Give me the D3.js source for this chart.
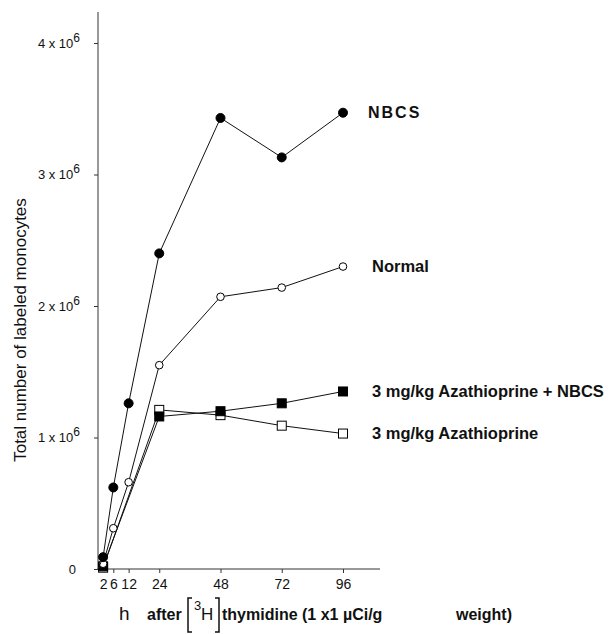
<!DOCTYPE html>
<html>
<head>
<meta charset="utf-8">
<script src="https://cdn.jsdelivr.net/npm/d3@7"></script>
<style>
  body { margin: 0; background: #fff; }
  svg { display: block; font-family: "Liberation Sans", Arial, sans-serif; }
</style>
</head>
<body>
<svg id="chart"></svg>
<script>
// hours after injection
const hoursCircles = [2, 6, 12, 24, 48, 72, 96];
const hoursSquares = [2, 24, 48, 72, 96];

// values in units of 10^6 labeled monocytes
const nbcs = [0.09, 0.62, 1.26, 2.40, 3.43, 3.13, 3.47];
const normal = [0.04, 0.31, 0.66, 1.55, 2.07, 2.14, 2.30];
const azaNbcs = [0.02, 1.16, 1.20, 1.26, 1.35];
const aza = [0.01, 1.21, 1.17, 1.09, 1.03];

const xTicks = [2, 6, 12, 24, 48, 72, 96];
const yTicks = [0, 1, 2, 3, 4];

const seriesLabels = ["NBCS", "Normal", "3 mg/kg  Azathioprine + NBCS", "3 mg/kg  Azathioprine"];

const width = 614;
const height = 634;

const svg = d3.select("#chart")
  .attr("width", width)
  .attr("height", height);

const x = d3.scaleLinear().domain([0, 96]).range([98, 343]);
const y = d3.scaleLinear().domain([0, 4]).range([569, 43]);

// axes
svg.append("line")
  .attr("x1", 98).attr("x2", 98)
  .attr("y1", y(0)).attr("y2", 12)
  .attr("stroke", "#333").attr("stroke-width", 1);

svg.append("line")
  .attr("x1", 98).attr("x2", 380)
  .attr("y1", y(0)).attr("y2", y(0))
  .attr("stroke", "#333").attr("stroke-width", 1);

const xAxis = svg.append("g")
  .attr("transform", `translate(0,${y(0)})`)
  .call(d3.axisBottom(x).tickValues(xTicks).tickSize(4).tickPadding(6));
xAxis.select(".domain").remove();
xAxis.selectAll("text")
  .attr("font-size", 14)
  .attr("font-family", "Liberation Sans, Arial, sans-serif")
  .attr("fill", "#111");
xAxis.selectAll("line").attr("stroke", "#333");
// no tick at 2 h, it sits on the origin cluster
xAxis.selectAll(".tick").filter(d => d === 2).select("line").remove();

const yAxis = svg.append("g")
  .attr("transform", "translate(98,0)")
  .call(d3.axisLeft(y).tickValues(yTicks).tickSize(4).tickPadding(14).tickFormat(""));
yAxis.select(".domain").remove();
yAxis.selectAll("line").attr("stroke", "#333");

yAxis.selectAll(".tick text").each(function(d) {
  const t = d3.select(this)
    .attr("font-size", 13)
    .attr("font-family", "Liberation Sans, Arial, sans-serif")
    .attr("fill", "#111");
  if (d === 0) {
    t.attr("x", -22).text("0");
  } else {
    t.append("tspan").text(d + " x 10");
    t.append("tspan").attr("dy", -6).attr("font-size", 12).text("6");
  }
});

// lines and markers
const line = d3.line()
  .x(d => x(d[0]))
  .y(d => y(d[1]));

function drawSeries(hours, values, shape, filled) {
  const pts = hours.map((h, i) => [h, values[i]]);
  svg.append("path")
    .datum([[0, 0]].concat(pts))
    .attr("d", line)
    .attr("fill", "none")
    .attr("stroke", "#111")
    .attr("stroke-width", 1);

  const g = svg.append("g");
  if (shape === "circle") {
    g.selectAll("circle")
      .data(pts)
      .enter()
      .append("circle")
      .attr("cx", d => x(d[0]))
      .attr("cy", d => y(d[1]))
      .attr("r", filled ? 4.5 : 3.8)
      .attr("fill", filled ? "#000" : "#fff")
      .attr("stroke", "#000")
      .attr("stroke-width", 1);
  } else {
    g.selectAll("rect")
      .data(pts)
      .enter()
      .append("rect")
      .attr("x", d => x(d[0]) - 4.5)
      .attr("y", d => y(d[1]) - 4.5)
      .attr("width", 9)
      .attr("height", 9)
      .attr("fill", filled ? "#000" : "#fff")
      .attr("stroke", "#000")
      .attr("stroke-width", 1);
  }
  return pts;
}

drawSeries(hoursSquares, aza, "square", false);
drawSeries(hoursSquares, azaNbcs, "square", true);
drawSeries(hoursCircles, normal, "circle", false);
drawSeries(hoursCircles, nbcs, "circle", true);

// series labels, next to the last point
const lastVals = [nbcs[nbcs.length - 1], normal[normal.length - 1], azaNbcs[azaNbcs.length - 1], aza[aza.length - 1]];
const labelX = [368, 372, 372, 372];

seriesLabels.forEach((lab, i) => {
  svg.append("text")
    .attr("x", labelX[i])
    .attr("y", y(lastVals[i]))
    .attr("dy", "0.35em")
    .attr("font-size", i === 0 ? 16 : 16.5)
    .attr("font-weight", "bold")
    .attr("letter-spacing", i === 0 ? 2 : 0)
    .attr("fill", "#111")
    .text(lab);
});

// axis titles
svg.append("text")
  .attr("transform", "translate(26,330) rotate(-90)")
  .attr("text-anchor", "middle")
  .attr("font-size", 17)
  .attr("fill", "#111")
  .text("Total number of labeled monocytes");

const xt = svg.append("g").attr("font-size", 16).attr("fill", "#111").attr("font-weight", "bold");
xt.append("text").attr("x", 119).attr("y", 620).attr("font-weight", "normal").attr("font-size", 19).text("h");
xt.append("text").attr("x", 147).attr("y", 620).text("after");
// bracket around 3H
xt.append("path")
  .attr("d", "M192,598 L188,598 L188,632 L192,632")
  .attr("fill", "none").attr("stroke", "#111").attr("stroke-width", 1.5);
xt.append("text").attr("x", 194).attr("y", 610).attr("font-size", 13).attr("font-weight", "normal").text("3");
xt.append("text").attr("x", 201).attr("y", 620).attr("font-weight", "normal").attr("font-size", 17).text("H");
xt.append("path")
  .attr("d", "M215,598 L219,598 L219,632 L215,632")
  .attr("fill", "none").attr("stroke", "#111").attr("stroke-width", 1.5);
xt.append("text").attr("x", 222).attr("y", 620).text("thymidine (1 x1 \u00b5Ci/g");
xt.append("text").attr("x", 456).attr("y", 620).text("weight)");
</script>
</body>
</html>
